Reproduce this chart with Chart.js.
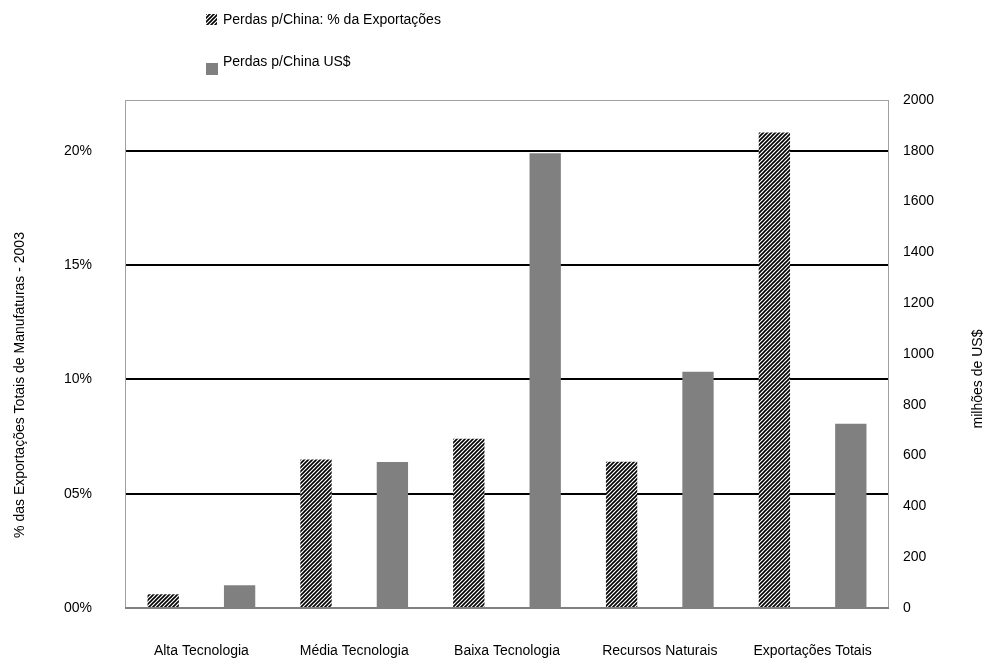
<!DOCTYPE html>
<html lang="pt">
<head>
<meta charset="utf-8">
<title>Perdas p/China</title>
<script src="https://cdn.jsdelivr.net/npm/chart.js@4.4.1/dist/chart.umd.min.js"></script>
<style>
  html, body { margin: 0; padding: 0; background: #fff; }
  #wrap { position: relative; width: 1003px; height: 671px; }
</style>
</head>
<body>
<div id="wrap"><canvas id="chart" width="1003" height="671"></canvas></div>
<script>
// Categorias e séries
const categories = ['Alta Tecnologia', 'Média Tecnologia', 'Baixa Tecnologia', 'Recursos Naturais', 'Exportações Totais'];
const lossShare = [0.6, 6.5, 7.4, 6.4, 20.8];     // % das exportações
const lossUsd = [90, 575, 1790, 930, 725];         // milhões de US$
const shareTicks = [0, 5, 10, 15, 20];
const usdMax = 2000;
const shareMax = usdMax / 1800 * 20;               // 20% alinhado com 1800

const seriesLabels = ['Perdas p/China: % da Exportações', 'Perdas p/China US$'];
const leftTitle = '% das Exportações Totais de Manufaturas - 2003';
const rightTitle = 'milhões de US$';

Chart.defaults.font.family = "'Liberation Sans', Arial, sans-serif";
Chart.defaults.font.size = 14;
Chart.defaults.color = '#000';

const canvas = document.getElementById('chart');
const ctx = canvas.getContext('2d');

// Hachura diagonal (////) para a série em %
function makeHatch() {
    const c = document.createElement('canvas');
    c.width = 4;
    c.height = 4;
    const g = c.getContext('2d');
    g.fillStyle = '#fff';
    g.fillRect(0, 0, 4, 4);
    g.strokeStyle = '#000';
    g.lineWidth = 1.6;
    g.beginPath();
    g.moveTo(-1, 5); g.lineTo(5, -1);
    g.moveTo(-1, 1); g.lineTo(1, -1);
    g.moveTo(3, 5); g.lineTo(5, 3);
    g.stroke();
    return ctx.createPattern(c, 'repeat');
}
const hatch = makeHatch();

// Moldura, legenda e títulos dos eixos
const decorations = {
    id: 'decorations',
    afterDatasetsDraw(chart) {
        const { ctx, chartArea: a } = chart;
        ctx.save();
        ctx.strokeStyle = '#a0a0a0';
        ctx.lineWidth = 1;
        ctx.strokeRect(a.left + 0.5, a.top + 0.5, a.right - a.left - 1, a.bottom - a.top);
        ctx.strokeStyle = '#808080';
        ctx.lineWidth = 2;
        ctx.beginPath();
        ctx.moveTo(a.left, a.bottom);
        ctx.lineTo(a.right, a.bottom);
        ctx.stroke();
        ctx.restore();
    },
    afterDraw(chart) {
        const { ctx } = chart;
        ctx.save();
        ctx.font = "14px 'Liberation Sans', Arial, sans-serif";
        ctx.fillStyle = '#000';
        ctx.textBaseline = 'middle';
        ctx.textAlign = 'left';

        ctx.fillStyle = hatch;
        ctx.fillRect(206, 14, 11, 11);
        ctx.fillStyle = '#000';
        ctx.fillText(seriesLabels[0], 223, 20);

        ctx.fillStyle = '#808080';
        ctx.fillRect(206, 63, 12, 12);
        ctx.fillStyle = '#000';
        ctx.fillText(seriesLabels[1], 223, 62);

        ctx.textAlign = 'center';
        ctx.save();
        ctx.translate(20, 385);
        ctx.rotate(-Math.PI / 2);
        ctx.fillText(leftTitle, 0, 0);
        ctx.restore();

        ctx.save();
        ctx.translate(978, 379);
        ctx.rotate(-Math.PI / 2);
        ctx.fillText(rightTitle, 0, 0);
        ctx.restore();
        ctx.restore();
    }
};

new Chart(ctx, {
    type: 'bar',
    data: {
        labels: categories,
        datasets: [
            {
                label: seriesLabels[0],
                data: lossShare,
                backgroundColor: hatch,
                borderWidth: 0,
                yAxisID: 'y'
            },
            {
                label: seriesLabels[1],
                data: lossUsd,
                backgroundColor: '#808080',
                borderWidth: 0,
                yAxisID: 'y1'
            }
        ]
    },
    options: {
        responsive: false,
        animation: false,
        layout: { padding: { top: 100, left: 0, right: 0, bottom: 0 } },
        plugins: {
            legend: { display: false },
            tooltip: { enabled: false }
        },
        datasets: {
            bar: { categoryPercentage: 1.0, barPercentage: 0.41 }
        },
        scales: {
            x: {
                grid: { display: false, drawTicks: false },
                border: { display: false },
                ticks: { padding: 35, maxRotation: 0, autoSkip: false },
                afterFit: s => { s.height = 63; }
            },
            y: {
                position: 'left',
                min: 0,
                max: shareMax,
                afterBuildTicks: s => { s.ticks = shareTicks.map(v => ({ value: v })); },
                ticks: {
                    padding: 33,
                    callback: v => (v < 10 ? '0' : '') + v + '%'
                },
                grid: {
                    drawTicks: false,
                    lineWidth: 2,
                    color: c => (c.tick && c.tick.value > 0 ? '#000' : 'rgba(0,0,0,0)')
                },
                border: { display: false },
                afterFit: s => { s.width = 125; }
            },
            y1: {
                position: 'right',
                min: 0,
                max: usdMax,
                ticks: { stepSize: 200, padding: 14, callback: v => String(v) },
                grid: { display: false, drawTicks: false },
                border: { display: false },
                afterFit: s => { s.width = 114; }
            }
        }
    },
    plugins: [decorations]
});
</script>
</body>
</html>
